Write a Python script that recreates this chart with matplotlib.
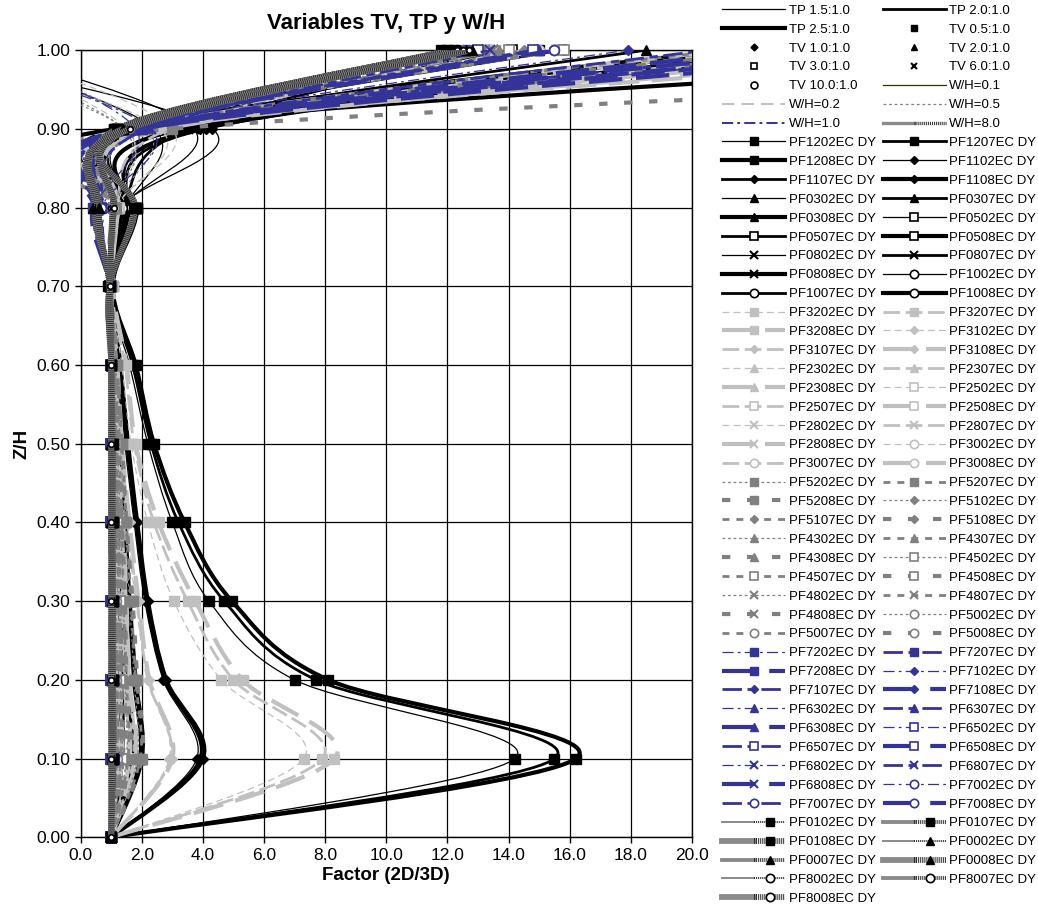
import numpy as np
import matplotlib
matplotlib.use('Agg')
import matplotlib.pyplot as plt
from matplotlib.path import Path
from matplotlib.patches import PathPatch
from matplotlib.lines import Line2D
from matplotlib.legend_handler import HandlerTuple

plt.rcParams['font.family'] = ['Liberation Sans', 'DejaVu Sans']
plt.rcParams['lines.scale_dashes'] = False

# relative height of each station
Z_LEVELS = [0.0, 0.1, 0.2, 0.3, 0.4, 0.5, 0.6, 0.7, 0.8, 0.9, 1.0]

# W/H = 0.1  (black, solid)
BLACK_NAMES = ['PF1202', 'PF1207', 'PF1208', 'PF1102', 'PF1107', 'PF1108',
               'PF0302', 'PF0307', 'PF0308', 'PF0502', 'PF0507', 'PF0508',
               'PF0802', 'PF0807', 'PF0808', 'PF1002', 'PF1007', 'PF1008']
BLACK_FACTORS = [
    [1.00, 14.2, 7.00, 4.20, 3.00, 2.20, 1.60, 0.95, 1.80, 1.10, 15.0],
    [1.00, 15.5, 7.70, 4.70, 3.20, 2.30, 1.70, 1.00, 1.80, 1.15, 21.0],
    [1.00, 16.2, 8.10, 4.95, 3.40, 2.40, 1.80, 1.05, 1.85, 1.20, 38.0],
    [1.00, 3.80, 2.70, 2.10, 1.75, 1.45, 1.25, 1.00, 1.30, 4.30, -5.5],
    [1.00, 3.90, 2.75, 2.15, 1.80, 1.50, 1.25, 1.00, 1.35, 4.10, 23.0],
    [1.00, 4.00, 2.80, 2.20, 1.85, 1.55, 1.30, 1.02, 1.40, 3.90, 24.0],
    [1.00, 1.90, 1.70, 1.55, 1.40, 1.25, 1.15, 1.00, 1.50, 2.40, -4.0],
    [1.00, 1.95, 1.75, 1.60, 1.45, 1.30, 1.15, 1.00, 1.55, 2.30, 18.5],
    [1.00, 2.00, 1.80, 1.60, 1.45, 1.30, 1.20, 1.00, 1.55, 2.20, 26.0],
    [1.00, 1.60, 1.50, 1.40, 1.30, 1.20, 1.10, 1.00, 1.50, 2.00, 14.1],
    [1.00, 1.65, 1.55, 1.45, 1.35, 1.20, 1.10, 1.00, 1.55, 1.90, 15.7],
    [1.00, 1.70, 1.55, 1.45, 1.35, 1.25, 1.10, 1.00, 1.60, 1.85, 22.0],
    [1.00, 1.30, 1.30, 1.25, 1.20, 1.15, 1.05, 1.00, 1.40, 3.70, -3.0],
    [1.00, 1.35, 1.30, 1.25, 1.20, 1.15, 1.05, 1.00, 1.40, 3.50, 13.5],
    [1.00, 1.35, 1.35, 1.30, 1.20, 1.15, 1.05, 1.00, 1.45, 3.30, 24.0],
    [1.00, 1.20, 1.20, 1.15, 1.10, 1.05, 1.00, 1.00, 1.30, 1.60, 12.5],
    [1.00, 1.20, 1.20, 1.15, 1.10, 1.05, 1.00, 1.00, 1.30, 1.58, 12.7],
    [1.00, 1.25, 1.20, 1.20, 1.10, 1.05, 1.00, 1.00, 1.35, 1.55, 15.5],
]

# W/H = 0.2  (light grey, dashed)
LGRAY_NAMES = ['PF3202', 'PF3207', 'PF3208', 'PF3102', 'PF3107', 'PF3108',
               'PF2302', 'PF2307', 'PF2308', 'PF2502', 'PF2507', 'PF2508',
               'PF2802', 'PF2807', 'PF2808', 'PF3002', 'PF3007', 'PF3008']
LGRAY_FACTORS = [
    [1.00, 7.30, 4.60, 3.05, 2.20, 1.65, 1.35, 1.00, 1.20, 1.50, -3.5],
    [1.00, 7.90, 5.00, 3.50, 2.40, 1.75, 1.45, 1.00, 1.20, 1.60, 25.0],
    [1.00, 8.30, 5.30, 3.75, 2.55, 1.80, 1.50, 1.05, 1.25, 1.70, 32.0],
    [1.00, 2.90, 2.20, 1.80, 1.50, 1.30, 1.15, 1.00, 1.20, 2.60, -4.5],
    [1.00, 2.95, 2.20, 1.85, 1.55, 1.35, 1.15, 1.00, 1.25, 2.50, 22.0],
    [1.00, 3.00, 2.25, 1.90, 1.60, 1.35, 1.20, 1.00, 1.25, 2.40, 30.0],
    [1.00, 1.70, 1.55, 1.45, 1.35, 1.20, 1.10, 1.00, 1.20, 1.90, 13.0],
    [1.00, 1.75, 1.60, 1.50, 1.35, 1.25, 1.10, 1.00, 1.25, 1.95, 14.5],
    [1.00, 1.80, 1.60, 1.50, 1.40, 1.25, 1.15, 1.00, 1.25, 2.00, 28.0],
    [1.00, 1.50, 1.40, 1.35, 1.30, 1.20, 1.10, 1.00, 1.20, 1.70, 13.3],
    [1.00, 1.55, 1.45, 1.40, 1.30, 1.20, 1.10, 1.00, 1.20, 1.75, 15.6],
    [1.00, 1.60, 1.50, 1.40, 1.30, 1.20, 1.10, 1.00, 1.25, 1.80, 21.0],
    [1.00, 1.30, 1.30, 1.25, 1.20, 1.10, 1.05, 1.00, 1.15, 3.00, -3.0],
    [1.00, 1.30, 1.30, 1.25, 1.20, 1.10, 1.05, 1.00, 1.15, 2.90, 13.6],
    [1.00, 1.35, 1.30, 1.30, 1.20, 1.15, 1.05, 1.00, 1.20, 2.80, 25.0],
    [1.00, 1.20, 1.20, 1.15, 1.10, 1.05, 1.00, 1.00, 1.10, 1.50, 12.4],
    [1.00, 1.20, 1.20, 1.15, 1.10, 1.05, 1.00, 1.00, 1.10, 1.55, 12.6],
    [1.00, 1.25, 1.20, 1.15, 1.10, 1.05, 1.00, 1.00, 1.15, 1.60, 15.0],
]

# W/H = 0.5  (grey, dotted)
GRAY_NAMES = ['PF5202', 'PF5207', 'PF5208', 'PF5102', 'PF5107', 'PF5108',
              'PF4302', 'PF4307', 'PF4308', 'PF4502', 'PF4507', 'PF4508',
              'PF4802', 'PF4807', 'PF4808', 'PF5002', 'PF5007', 'PF5008']
GRAY_FACTORS = [
    [1.00, 1.85, 1.75, 1.60, 1.45, 1.30, 1.15, 1.00, 1.10, 1.40, -4.0],
    [1.00, 1.95, 1.80, 1.65, 1.50, 1.35, 1.20, 1.00, 1.15, 1.50, 21.0],
    [1.00, 2.00, 1.85, 1.70, 1.50, 1.35, 1.20, 1.00, 1.15, 3.00, 60.0],
    [1.00, 1.50, 1.45, 1.40, 1.30, 1.20, 1.10, 1.00, 1.10, 1.45, -5.0],
    [1.00, 1.55, 1.50, 1.40, 1.35, 1.25, 1.10, 1.00, 1.15, 1.50, 14.5],
    [1.00, 1.60, 1.50, 1.45, 1.35, 1.25, 1.15, 1.00, 1.15, 1.55, 23.0],
    [1.00, 1.35, 1.35, 1.30, 1.25, 1.15, 1.05, 1.00, 1.10, 1.60, 13.2],
    [1.00, 1.40, 1.35, 1.30, 1.25, 1.15, 1.10, 1.00, 1.10, 1.65, 13.7],
    [1.00, 1.45, 1.40, 1.35, 1.25, 1.20, 1.10, 1.00, 1.15, 1.70, 26.0],
    [1.00, 1.30, 1.30, 1.25, 1.20, 1.15, 1.05, 1.00, 1.10, 1.50, 14.0],
    [1.00, 1.30, 1.30, 1.25, 1.20, 1.15, 1.05, 1.00, 1.10, 1.55, 15.8],
    [1.00, 1.35, 1.30, 1.30, 1.20, 1.15, 1.05, 1.00, 1.10, 1.60, 25.0],
    [1.00, 1.20, 1.20, 1.15, 1.10, 1.05, 1.00, 1.00, 1.05, 2.20, -3.5],
    [1.00, 1.20, 1.20, 1.15, 1.10, 1.05, 1.00, 1.00, 1.05, 2.10, 13.5],
    [1.00, 1.25, 1.20, 1.20, 1.15, 1.05, 1.00, 1.00, 1.10, 2.00, 23.0],
    [1.00, 1.15, 1.15, 1.10, 1.10, 1.05, 1.00, 1.00, 1.05, 1.40, 12.5],
    [1.00, 1.15, 1.15, 1.10, 1.10, 1.05, 1.00, 1.00, 1.05, 1.45, 12.8],
    [1.00, 1.20, 1.15, 1.15, 1.10, 1.05, 1.00, 1.00, 1.10, 1.50, 15.5],
]

# W/H = 1.0  (blue, dash-dot)
BLUE_NAMES = ['PF7202', 'PF7207', 'PF7208', 'PF7102', 'PF7107', 'PF7108',
              'PF6302', 'PF6307', 'PF6308', 'PF6502', 'PF6507', 'PF6508',
              'PF6802', 'PF6807', 'PF6808', 'PF7002', 'PF7007', 'PF7008']
BLUE_FACTORS = [
    [1.00, 1.05, 1.05, 1.00, 1.00, 1.00, 1.00, 0.95, 0.50, 1.80, -3.0],
    [1.00, 1.05, 1.05, 1.05, 1.00, 1.00, 1.00, 0.95, 0.45, 1.90, 24.0],
    [1.00, 1.10, 1.05, 1.05, 1.00, 1.00, 1.00, 0.95, 0.40, 2.00, 29.0],
    [1.00, 1.05, 1.05, 1.00, 1.00, 1.00, 1.00, 0.95, 0.55, 1.70, 17.9],
    [1.00, 1.05, 1.05, 1.00, 1.00, 1.00, 1.00, 0.95, 0.50, 1.80, 20.5],
    [1.00, 1.05, 1.05, 1.05, 1.00, 1.00, 1.00, 0.95, 0.45, 1.90, 26.0],
    [1.00, 1.00, 1.00, 1.00, 1.00, 1.00, 1.00, 0.95, 0.60, 1.60, 14.9],
    [1.00, 1.00, 1.00, 1.00, 1.00, 1.00, 1.00, 0.95, 0.55, 1.70, 15.0],
    [1.00, 1.05, 1.00, 1.00, 1.00, 1.00, 1.00, 0.95, 0.50, 1.80, 22.5],
    [1.00, 1.00, 1.00, 1.00, 1.00, 1.00, 1.00, 0.95, 0.65, 1.55, 13.0],
    [1.00, 1.00, 1.00, 1.00, 1.00, 1.00, 1.00, 0.95, 0.60, 1.60, 14.8],
    [1.00, 1.05, 1.00, 1.00, 1.00, 1.00, 1.00, 0.95, 0.55, 1.65, 27.0],
    [1.00, 1.00, 1.00, 1.00, 1.00, 1.00, 1.00, 0.95, 0.70, 2.30, -4.5],
    [1.00, 1.00, 1.00, 1.00, 1.00, 1.00, 1.00, 0.95, 0.65, 2.20, 13.4],
    [1.00, 1.00, 1.00, 1.00, 1.00, 1.00, 1.00, 0.95, 0.60, 2.10, 24.0],
    [1.00, 0.98, 0.98, 0.98, 0.98, 0.98, 0.98, 0.95, 0.75, 1.50, 12.3],
    [1.00, 0.98, 0.98, 0.98, 0.98, 0.98, 0.98, 0.95, 0.70, 1.55, 12.6],
    [1.00, 1.00, 0.98, 0.98, 0.98, 0.98, 0.98, 0.95, 0.65, 1.60, 15.5],
]

# W/H = 8.0  (hatched dark grey)
WIDE_NAMES = ['PF0102', 'PF0107', 'PF0108', 'PF0002', 'PF0007', 'PF0008',
              'PF8002', 'PF8007', 'PF8008']
WIDE_FACTORS = [
    [1.00, 1.05, 1.05, 1.05, 1.05, 1.05, 1.00, 0.90, 1.85, 1.10, 11.8],
    [1.00, 1.05, 1.05, 1.05, 1.05, 1.05, 1.00, 0.92, 1.80, 1.15, 12.0],
    [1.00, 1.05, 1.05, 1.05, 1.05, 1.05, 1.00, 0.95, 1.75, 1.20, 12.2],
    [1.00, 1.05, 1.05, 1.05, 1.05, 1.00, 1.00, 0.95, 0.40, 1.30, 12.4],
    [1.00, 1.05, 1.05, 1.05, 1.00, 1.00, 1.00, 0.95, 0.50, 1.35, 12.6],
    [1.00, 1.05, 1.05, 1.05, 1.00, 1.00, 1.00, 0.95, 0.60, 1.40, 12.8],
    [1.00, 1.00, 1.00, 1.00, 1.00, 1.00, 1.00, 0.95, 1.00, 1.55, 12.3],
    [1.00, 1.00, 1.00, 1.00, 1.00, 1.00, 1.00, 0.95, 1.05, 1.58, 12.5],
    [1.00, 1.00, 1.00, 1.00, 1.00, 1.00, 1.00, 0.95, 1.10, 1.60, 12.7],
]

HEADER_LABELS = ['TP 1.5:1.0', 'TP 2.0:1.0', 'TP 2.5:1.0',
                 'TV 0.5:1.0', 'TV 1.0:1.0', 'TV 2.0:1.0', 'TV 3.0:1.0',
                 'TV 6.0:1.0', 'TV 10.0:1.0',
                 'W/H=0.1', 'W/H=0.2', 'W/H=0.5', 'W/H=1.0', 'W/H=8.0']

X_MIN, X_MAX = 0.0, 20.0

# ---- styles -------------------------------------------------------------
TP_WIDTH = [0.9, 2.0, 3.0]
WIDE_WIDTH = [1.4, 2.8, 4.2]
# marker per TV (0.5, 1.0, 2.0, 3.0, 6.0, 10.0): (marker, open?)
TV_MARKERS = [('s', False), ('D', False), ('^', False),
              ('s', True), ('x', False), ('o', True)]
WIDE_MARKERS = [('s', False), ('^', False), ('o', True)]

GROUPS = [
    dict(names=BLACK_NAMES, values=BLACK_FACTORS, color='black',
         dashes=[None, None, None]),
    dict(names=LGRAY_NAMES, values=LGRAY_FACTORS, color='#c0c0c0',
         dashes=[(5, 3), (12, 4), (22, 9)]),
    dict(names=GRAY_NAMES, values=GRAY_FACTORS, color='#808080',
         dashes=[(2, 2), (5, 5), (6, 12)]),
    dict(names=BLUE_NAMES, values=BLUE_FACTORS, color='#333399',
         dashes=[(8, 3, 2, 3), (14, 4, 6, 4), (24, 10)]),
]
HATCH_BASE = '#8a8a8a'
HATCH_STRIPE = '#2a2a2a'


def smooth_path(xs, ys):
    # Excel-like smoothed line: cubic bezier through every point
    pts = np.column_stack([xs, ys]).astype(float)
    n = len(pts)
    verts = [pts[0]]
    codes = [Path.MOVETO]
    for i in range(n - 1):
        p0 = pts[i - 1] if i > 0 else pts[i]
        p1 = pts[i]
        p2 = pts[i + 1]
        p3 = pts[i + 2] if i + 2 < n else pts[i + 1]
        verts += [p1 + (p2 - p0) / 6.0, p2 - (p3 - p1) / 6.0, p2]
        codes += [Path.CURVE4] * 3
    return Path(verts, codes)


def marker_kw(mk, is_open, color, ms):
    kw = dict(marker=mk, markersize=ms, markeredgecolor=color)
    if mk == 'D':
        kw['markersize'] = ms - 1.5
    if mk == 'x':
        kw['markeredgewidth'] = 1.5
    kw['markerfacecolor'] = 'white' if is_open else color
    if is_open:
        kw['markeredgewidth'] = 1.2
    return kw


def line_kw(dash):
    if dash is None:
        return dict(linestyle='solid')
    return dict(linestyle=(0, dash))


def plot_markers(ax, vals, zorder, **kw):
    # excel does not cut markers at the plot edge; points off the x range are not drawn
    xs = np.asarray(vals)
    zs = np.asarray(Z_LEVELS)
    inside = (xs >= X_MIN) & (xs <= X_MAX)
    ax.plot(xs[inside], zs[inside], ls='none', zorder=zorder, clip_on=False, **kw)


fig = plt.figure(figsize=(10.38, 9.07), dpi=100)
ax = fig.add_axes([0.0777, 0.0768, 0.5889, 0.868])

legend_items = []

# header entries (legend only)
for i in range(3):
    legend_items.append((Line2D([], [], color='black', lw=TP_WIDTH[i]), HEADER_LABELS[i]))
for j, (mk, is_open) in enumerate(TV_MARKERS):
    legend_items.append((Line2D([], [], ls='none', **marker_kw(mk, is_open, 'black', 5)),
                         HEADER_LABELS[3 + j]))
legend_items.append((Line2D([], [], color='#333300', lw=0.9), 'W/H=0.1'))
legend_items.append((Line2D([], [], color='#c0c0c0', lw=1.4, **line_kw((9, 5))), 'W/H=0.2'))
legend_items.append((Line2D([], [], color='#808080', lw=0.9, **line_kw((2, 2))), 'W/H=0.5'))
legend_items.append((Line2D([], [], color='#333399', lw=1.4, **line_kw((8, 3, 2, 3))), 'W/H=1.0'))
legend_items.append(((Line2D([], [], color=HATCH_BASE, lw=2.4),
                      Line2D([], [], color=HATCH_STRIPE, lw=2.4, **line_kw((0.7, 0.7)))),
                     'W/H=8.0'))

zo = 2.0
for grp in GROUPS:
    for k, (name, vals) in enumerate(zip(grp['names'], grp['values'])):
        tv = k // 3
        tp = k % 3
        mk, is_open = TV_MARKERS[tv]
        lw = TP_WIDTH[tp]
        dash = grp['dashes'][tp]
        patch = PathPatch(smooth_path(vals, Z_LEVELS), fill=False, edgecolor=grp['color'],
                          lw=lw, joinstyle='round', zorder=zo, **line_kw(dash))
        ax.add_patch(patch)
        plot_markers(ax, vals, zo + 0.001, **marker_kw(mk, is_open, grp['color'], 7))
        zo += 0.002
        h = Line2D([], [], color=grp['color'], lw=lw, **line_kw(dash),
                   **marker_kw(mk, is_open, grp['color'], 6))
        legend_items.append((h, name + 'EC DY'))

for k, (name, vals) in enumerate(zip(WIDE_NAMES, WIDE_FACTORS)):
    tv = k // 3
    tp = k % 3
    mk, is_open = WIDE_MARKERS[tv]
    lw = WIDE_WIDTH[tp]
    ms = 4 if is_open else 7
    path = smooth_path(vals, Z_LEVELS)
    ax.add_patch(PathPatch(path, fill=False, edgecolor=HATCH_BASE, lw=lw,
                           joinstyle='round', zorder=zo))
    ax.add_patch(PathPatch(path, fill=False, edgecolor=HATCH_STRIPE, lw=lw,
                           linestyle=(0, (0.7, 0.7)), joinstyle='round', zorder=zo + 0.0005))
    plot_markers(ax, vals, zo + 0.001, **marker_kw(mk, is_open, 'black', ms))
    zo += 0.002
    h = (Line2D([], [], color=HATCH_BASE, lw=lw),
         Line2D([], [], color=HATCH_STRIPE, lw=lw, **line_kw((0.7, 0.7)),
                **marker_kw(mk, is_open, 'black', 6)))
    legend_items.append((h, name + 'EC DY'))

ax.set_xlim(X_MIN, X_MAX)
ax.set_ylim(0, 1)
ax.set_xticks(np.arange(0, 20.1, 2))
ax.set_yticks(np.arange(0, 1.01, 0.1))
ax.set_xticklabels(['%.1f' % v for v in np.arange(0, 20.1, 2)])
ax.set_yticklabels(['%.2f' % v for v in np.arange(0, 1.01, 0.1)])
ax.tick_params(labelsize=12.5, direction='out', length=4, width=1, color='black')
ax.grid(True, color='black', lw=0.9)
ax.set_axisbelow(True)
for sp in ax.spines.values():
    sp.set_linewidth(1.0)
    sp.set_zorder(1.5)

ax.set_title('Variables TV, TP y W/H', fontsize=16, fontweight='bold', pad=15)
ax.set_xlabel('Factor (2D/3D)', fontsize=13.5, fontweight='bold', labelpad=3)
ax.set_ylabel('Z/H', fontsize=13.5, fontweight='bold', labelpad=4)

# excel style legend: rows read left -> right
ordered = legend_items[0::2] + legend_items[1::2]
handles = [h for h, _ in ordered]
labels = [l for _, l in ordered]
fig.legend(handles, labels, loc='upper left', bbox_to_anchor=(722 / 1038, 1 - 4.5 / 907),
           ncol=2, frameon=False, fontsize=9.5, handlelength=4.8, handletextpad=0.25,
           columnspacing=0.54, labelspacing=0.505, borderpad=0.0, borderaxespad=0.0,
           numpoints=1, handler_map={tuple: HandlerTuple(ndivide=None, pad=0)})

fig.savefig('out.png', dpi=100)
